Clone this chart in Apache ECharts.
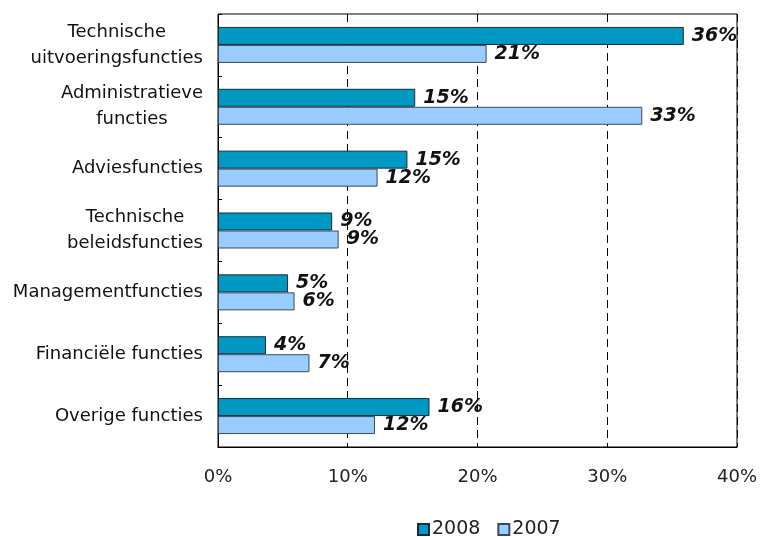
<!DOCTYPE html>
<html>
<head>
<meta charset="utf-8">
<script src="https://cdn.jsdelivr.net/npm/echarts@6/dist/echarts.min.js"></script>
<style>
  html, body { margin: 0; padding: 0; background: #fff; }
  #chart { width: 760px; height: 537px; }
</style>
</head>
<body>
<div id="chart"></div>
<script>
// Function groups, top to bottom
const categories = [
  'Technische\nuitvoeringsfuncties',
  'Administratieve\nfuncties',
  'Adviesfuncties',
  'Technische\nbeleidsfuncties',
  'Managementfuncties',
  'Financiële functies',
  'Overige functies'
];

// Share per function group (%)
const values2008 = [35.9, 15.2, 14.6, 8.8, 5.4, 3.7, 16.3];
const values2007 = [20.7, 32.7, 12.3, 9.3, 5.9, 7.05, 12.1];

const seriesNames = ['2008', '2007'];
const xTicks = [0, 10, 20, 30, 40];

const FONT = 'DejaVu Sans';

const chart = echarts.init(document.getElementById('chart'), null, { renderer: 'canvas' });

const valueLabel = {
  show: true,
  position: 'right',
  distance: 8,
  fontFamily: FONT,
  fontSize: 19,
  fontWeight: 'bold',
  fontStyle: 'italic',
  color: '#111',
  formatter: p => Math.round(p.value) + '%'
};

chart.setOption({
  animation: false,
  backgroundColor: '#fff',
  textStyle: { fontFamily: FONT },
  grid: {
    left: 218, top: 14, width: 519, height: 433,
    show: true, borderColor: '#000', borderWidth: 1, backgroundColor: 'transparent'
  },
  legend: {
    data: seriesNames,
    left: 412, top: 515,
    icon: 'rect',
    itemWidth: 11, itemHeight: 11,
    itemGap: 17,
    textStyle: { fontFamily: FONT, fontSize: 19, color: '#222', padding: [0, 0, 0, -2] }
  },
  xAxis: {
    type: 'value',
    min: xTicks[0], max: xTicks[xTicks.length - 1], interval: 10,
    axisLine: { show: true, lineStyle: { color: '#000', width: 1 } },
    axisTick: { show: false },
    axisLabel: {
      margin: 21, fontFamily: FONT, fontSize: 18, color: '#222',
      formatter: v => v + '%'
    },
    splitLine: { show: true, lineStyle: { color: '#000', width: 1, type: [8, 5] } }
  },
  yAxis: {
    type: 'category',
    data: categories,
    inverse: true,
    axisLine: { show: true, lineStyle: { color: '#000', width: 1 } },
    axisTick: { show: true, inside: true, length: 4, lineStyle: { color: '#000' } },
    axisLabel: {
      margin: 15,
      fontFamily: FONT, fontSize: 18, color: '#111',
      lineHeight: 26,
      align: 'right',
      formatter: v => v.split('\n').map(s => '{c|' + s + '}').join('\n'),
      rich: { c: { align: 'center', fontFamily: FONT, fontSize: 18, lineHeight: 26, color: '#111' } }
    }
  },
  series: [
    {
      name: seriesNames[0], type: 'bar', data: values2008,
      barWidth: 18, barGap: '0%',
      itemStyle: { color: '#0099c4', borderColor: '#1a2a33', borderWidth: 1 },
      label: valueLabel
    },
    {
      name: seriesNames[1], type: 'bar', data: values2007,
      barWidth: 18, barGap: '0%',
      itemStyle: { color: '#99ccff', borderColor: '#3a4a5a', borderWidth: 1 },
      label: valueLabel
    }
  ]
});
</script>
</body>
</html>
